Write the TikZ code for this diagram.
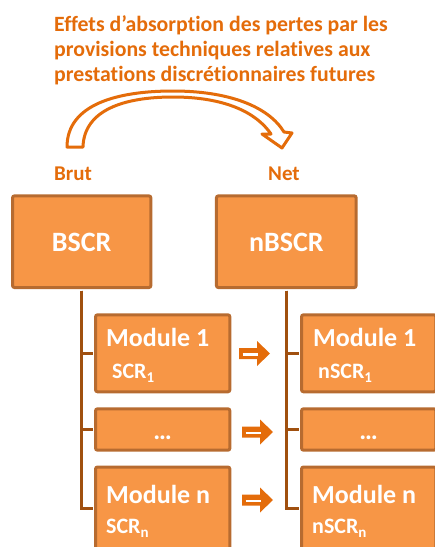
\documentclass[tikz,border=0pt]{standalone}
\usepackage{fontspec}
\setmainfont{Carlito}[Ligatures=NoCommon]
\definecolor{accent}{HTML}{E46C0A}
\definecolor{boxfill}{HTML}{F79646}
\definecolor{boxline}{HTML}{B76B30}
\definecolor{connline}{HTML}{A0500F}
\newcommand{\fsz}[1]{\fontsize{#1}{#1}\selectfont}
\newcommand{\sub}[1]{\raisebox{-0.22em}{\fsz{15}#1}}
\tikzset{
  box/.style={draw=boxline, fill=boxfill, line width=3pt, rounded corners=2pt,
    inner sep=0pt, minimum width=#1},
  box/.default=134.3pt,
  conn/.style={draw=connline, line width=3pt},
  headtxt/.style={text=accent, font=\bfseries\fsz{21.8}, inner sep=0pt, anchor=base west},
  sidetxt/.style={text=accent, font=\bfseries\fsz{21}, inner sep=0pt, anchor=base west},
  bigtxt/.style={text=white, font=\bfseries\fsz{28}, inner sep=0pt, anchor=base},
  modtxt/.style={text=white, font=\bfseries\fsz{26}, inner sep=0pt, anchor=base west},
  scrtxt/.style={text=white, font=\bfseries\fsz{22}, inner sep=0pt, anchor=base west},
  fatarrow/.pic={
    \fill[accent] (0,-5.5) -- (18,-5.5) -- (18,-12.5) -- (31,0) -- (18,12.5)
      -- (18,5.5) -- (0,5.5) -- cycle;
    \draw[white, line width=2.6pt] (3.5,0.8) -- (19,0.8);
  }
}
\begin{document}
\begin{tikzpicture}[x=1pt, y=-1pt]
\useasboundingbox (0,0) rectangle (435,547);
\clip (0,0) rectangle (435,547);

% heading
\node[headtxt] (t1) at (54,31.7) {Effets d’absorption des pertes par les};
\node[headtxt] (t2) at (54,56.3) {provisions techniques relatives aux};
\node[headtxt] (t3) at (54,81.3) {prestations discrétionnaires futures};

% curved hollow arrow from gross to net
\draw[accent, line width=3pt, fill=white, line join=round]
  (67,147) .. controls (67,104) and (118,91) .. (173,91)
  .. controls (228,91) and (268,106) .. (284,132)
  -- (292,133) -- (282,148) -- (262,134) -- (271,134)
  .. controls (256,112) and (224,97) .. (173,97)
  .. controls (124,97) and (84,110) .. (83,147) -- cycle;

\node[sidetxt] (brut) at (54,180) {Brut};
\node[sidetxt] (net) at (268,180) {Net};

% top boxes
\node[box=138.3pt, minimum height=91.7pt] (bscr) at (81.7,241.7) {};
\node[box=139.7pt, minimum height=91.7pt] (nbscr) at (286.3,241.7) {};

% module boxes
\node[box, minimum height=77pt] (m1l) at (162.7,353.3) {};
\node[box, minimum height=41.4pt] (mdl) at (162.7,429.5) {};
\node[box, minimum height=95pt, anchor=north] (mnl) at (162.7,465.5) {};
\node[box, minimum height=77pt] (m1r) at (368.7,353.3) {};
\node[box, minimum height=41.4pt] (mdr) at (368.7,429.5) {};
\node[box, minimum height=95pt, anchor=north] (mnr) at (368.7,465.5) {};

\coordinate (mnlt) at ([yshift=-42.5pt]mnl.north west);
\coordinate (mnrt) at ([yshift=-42.5pt]mnr.north west);

% tree connectors
\draw[conn] ([yshift=-1.5pt]bscr.south) |- ([xshift=-1.5pt]m1l.west);
\draw[conn] ([yshift=-1.5pt]bscr.south) |- ([xshift=-1.5pt]mdl.west);
\draw[conn] ([yshift=-1.5pt]bscr.south) |- ([xshift=-1.5pt]mnlt);
\draw[conn] ([yshift=-1.5pt]nbscr.south) |- ([xshift=-1.5pt]m1r.west);
\draw[conn] ([yshift=-1.5pt]nbscr.south) |- ([xshift=-1.5pt]mdr.west);
\draw[conn] ([yshift=-1.5pt]nbscr.south) |- ([xshift=-1.5pt]mnrt);

% labels
\node[bigtxt] (lb) at (81.7,251.7) {BSCR};
\node[bigtxt] (lnb) at (286.3,251.7) {nBSCR};

\node[modtxt] (l1) at (106,346) {Module 1};
\node[scrtxt] (s1) at (112,378) {SCR\sub{1}};
\node[modtxt, anchor=base] (ld) at (162.7,439) {…};
\node[modtxt] (ln) at (106,503) {Module n};
\node[scrtxt] (sn) at (106,533) {SCR\sub{n}};

\node[modtxt] (r1) at (313,346) {Module 1};
\node[scrtxt] (rs1) at (318,378) {nSCR\sub{1}};
\node[modtxt, anchor=base] (rd) at (368.7,439) {…};
\node[modtxt] (rn) at (312,503) {Module n};
\node[scrtxt] (rsn) at (312,533) {nSCR\sub{n}};

% arrows from gross to net modules
\pic at (239,353.5) {fatarrow};
\pic at (242,432) {fatarrow};
\pic at (242,500) {fatarrow};
\end{tikzpicture}
\end{document}
